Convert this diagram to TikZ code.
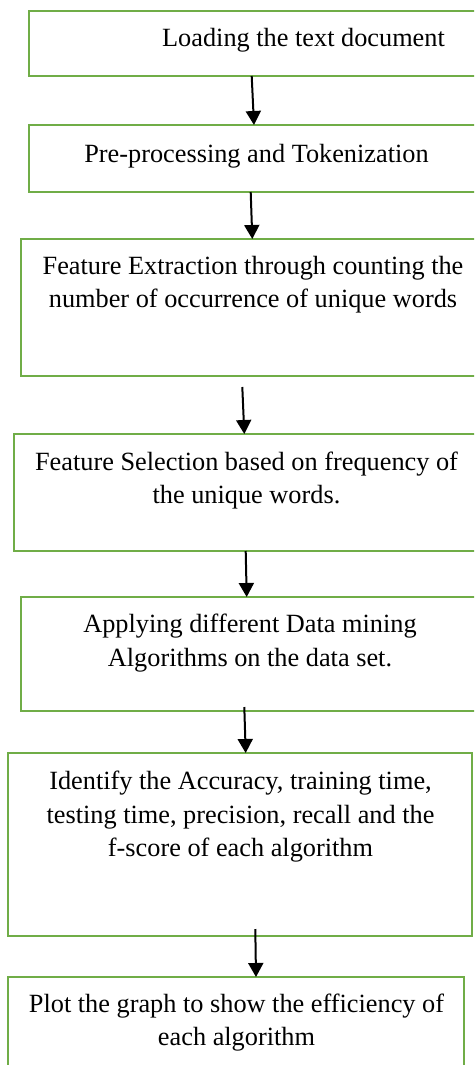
\documentclass[tikz,border=0pt]{standalone}
\usepackage{fontspec}
\setmainfont{Liberation Serif}
\usetikzlibrary{arrows.meta}
\definecolor{boxgreen}{HTML}{70AD47}
\tikzset{
  stagebox/.style={draw=boxgreen, line width=2.6pt, fill=none, inner sep=0pt, outer sep=0pt},
  % base anchor of a multi-line caption sits on its last line
  stagetext/.style={align=center, inner sep=0pt, anchor=base,
    font=\fontsize{26.3}{33.5}\selectfont},
  flow/.style={line width=2pt, -{Triangle[length=14pt,width=15pt]}}
}
\begin{document}
\begin{tikzpicture}[x=1pt,y=-1pt]
\useasboundingbox (0,0) rectangle (474,1065);
\clip (0,0) rectangle (474,1065);
\fill[white] (0,0) rectangle (474,1065);

% process stages (outline boxes)
\node[stagebox, minimum width=548pt, minimum height=65pt]  (b1) at (303,43.5) {};
\node[stagebox, minimum width=455pt, minimum height=67pt]  (b2) at (256.5,158.5) {};
\node[stagebox, minimum width=464pt, minimum height=137pt] (b3) at (253,307.5) {};
\node[stagebox, minimum width=465pt, minimum height=117pt] (b4) at (246.5,492.5) {};
\node[stagebox, minimum width=458pt, minimum height=114pt] (b5) at (250,654) {};
\node[stagebox, minimum width=464pt, minimum height=183pt] (b6) at (240,844.5) {};
\node[stagebox, minimum width=456pt, minimum height=110pt] (b7) at (236,1032) {};

% stage captions
\node[stagetext] (t1) at (303.5,47) {Loading the text document};
\node[stagetext] (t2) at (256.5,162) {Pre-processing and Tokenization};
\node[stagetext] (t3) at (253,307.5) {Feature Extraction through counting the\\number of occurrence of unique words};
\node[stagetext] (t4) at (246.5,503.5) {Feature Selection based on frequency of\\the unique words.};
\node[stagetext] (t5) at (250,666) {Applying different Data mining\\Algorithms on the data set.};
\node[stagetext] (t6) at (240.5,856.5) {Identify the Accuracy, training time,\\testing time, precision, recall and the\\f-score of each algorithm};
\node[stagetext] (t7) at (236.5,1045.5) {Plot the graph to show the efficiency of\\each algorithm};

% flow arrows between stages
\draw[flow] ([xshift=222.7pt]b1.south west) -- ([xshift=225pt]b2.north west);
\draw[flow] ([xshift=221.7pt]b2.south west) -- ([xshift=231.3pt]b3.north west);
\draw[flow] ([xshift=221.3pt,yshift=-11pt]b3.south west) -- ([xshift=230.3pt]b4.north west);
\draw[flow] ([xshift=231.7pt]b4.south west) -- ([xshift=225.7pt]b5.north west);
\draw[flow] ([xshift=223.3pt,yshift=4pt]b5.south west) -- ([xshift=237.7pt]b6.north west);
\draw[flow] ([xshift=247.3pt,yshift=7pt]b6.south west) -- ([xshift=248pt]b7.north west);
\end{tikzpicture}
\end{document}
